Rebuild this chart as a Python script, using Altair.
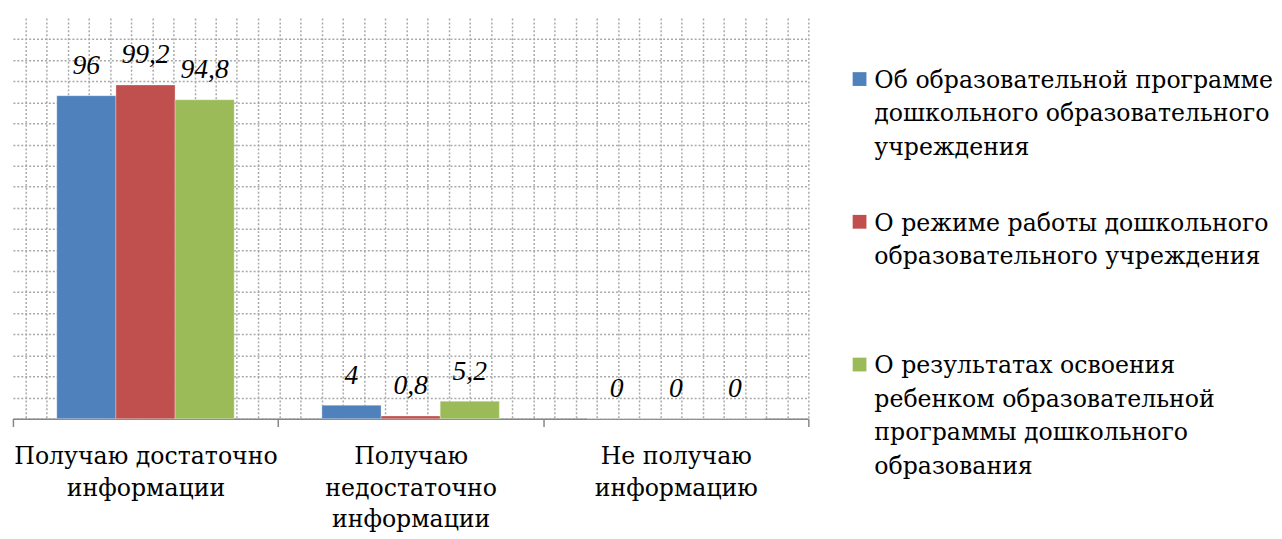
import altair as alt
import pandas as pd

categories = ["Получаю достаточно информации",
              "Получаю недостаточно информации",
              "Не получаю информацию"]
category_lines = [["Получаю достаточно", "информации"],
                  ["Получаю", "недостаточно", "информации"],
                  ["Не получаю", "информацию"]]
series = ["Об образовательной программе дошкольного образовательного учреждения",
          "О режиме работы дошкольного образовательного учреждения",
          "О результатах освоения ребенком образовательной программы дошкольного образования"]
series_lines = [["Об образовательной программе", "дошкольного образовательного", "учреждения"],
                ["О режиме работы дошкольного", "образовательного учреждения"],
                ["О результатах освоения", "ребенком образовательной", "программы дошкольного", "образования"]]
values = [[96, 4, 0],
          [99.2, 0.8, 0],
          [94.8, 5.2, 0]]
colors = ["#4F81BD", "#C0504D", "#9BBB59"]

FONT = "DejaVu Serif"
FONT_IT = "Liberation Serif"
YMAX = 119.1

rows = []
for si, s in enumerate(series):
    for ci, c in enumerate(categories):
        v = values[si][ci]
        rows.append({"cat": c, "ser": s, "val": v, "lab": f"{v:g}".replace(".", ",")})
df = pd.DataFrame(rows)

# multi-line axis labels
expr = "''"
for c, lines in reversed(list(zip(categories, category_lines))):
    arr = "[" + ",".join("'" + l + "'" for l in lines) + "]"
    expr = f"datum.value == '{c}' ? {arr} : ({expr})"

color_scale = alt.Scale(domain=series, range=colors)

xenc = alt.X("cat:N", sort=categories,
             scale=alt.Scale(paddingInner=0, paddingOuter=0),
             axis=alt.Axis(title=None, labelAngle=0, grid=False, labelExpr=expr,
                           labelFont=FONT, labelFontSize=24, labelLineHeight=32,
                           labelColor="#000000", labelPadding=19,
                           domainColor="#868686", domainWidth=1.5,
                           tickColor="#868686", tickWidth=1.5, tickSize=8,
                           tickBand="extent", labelLimit=400))
xoff = alt.XOffset("ser:N", sort=series, scale=alt.Scale(paddingInner=0, paddingOuter=0.742))
yenc = alt.Y("val:Q", scale=alt.Scale(domain=[0, YMAX], nice=False, zero=True),
             axis=alt.Axis(title=None, labels=False, ticks=False, domain=False, grid=True,
                           values=[YMAX * i / 19 for i in range(20)],
                           gridColor="#a8a8a8", gridDash=[2, 2], gridWidth=1.5))

base = alt.Chart(df).encode(x=xenc, xOffset=xoff, y=yenc)
bars = base.mark_bar(stroke="#ffffff", strokeWidth=0.5, strokeOpacity=0.6).encode(
    color=alt.Color("ser:N", scale=color_scale, legend=None),
)
texts = base.mark_text(font=FONT_IT, fontSize=28, fontStyle="italic",
                       baseline="bottom", dy=-16, color="#000000").encode(text="lab:N")
barlayer = alt.layer(bars, texts)

grid_df = pd.DataFrame({"gx": [0, 808]})
vgrid = alt.Chart(grid_df).mark_point(opacity=0).encode(
    x=alt.X("gx:Q", scale=alt.Scale(domain=[0, 808], nice=False, zero=False),
            axis=alt.Axis(orient="top", title=None, labels=False, ticks=False, domain=False,
                          grid=True, values=[12.5 + 21.5 * k for k in range(38)],
                          gridColor="#a8a8a8", gridDash=[2, 2], gridWidth=1.5)),
)

main = alt.layer(vgrid, barlayer).resolve_scale(x="independent").properties(
    width=808, height=407)

leg_df = pd.DataFrame({"ser": series, "txt": ["\n".join(l) for l in series_lines]})
ly = alt.Y("ser:N", scale=alt.Scale(type="point", domain=series, range=[62, 352], padding=0),
           axis=None)
squares = alt.Chart(leg_df).mark_square(size=196, opacity=1).encode(
    x=alt.value(7), y=ly, color=alt.Color("ser:N", scale=color_scale, legend=None))
ltext = alt.Chart(leg_df).mark_text(align="left", baseline="alphabetic", dy=9, lineBreak="\n",
                                    font=FONT, fontSize=24, lineHeight=34, color="#000000").encode(
    x=alt.value(22), y=ly, text="txt:N")
legend = alt.layer(squares, ltext).properties(width=400, height=407)

chart = alt.hconcat(main, legend, spacing=42).properties(
    padding={"left": 2, "top": 6, "right": 0, "bottom": 0}
).configure(background="#ffffff").configure_view(strokeWidth=0, stroke="transparent")

chart.save("out.html", embed_options={"renderer": "svg", "actions": False})
